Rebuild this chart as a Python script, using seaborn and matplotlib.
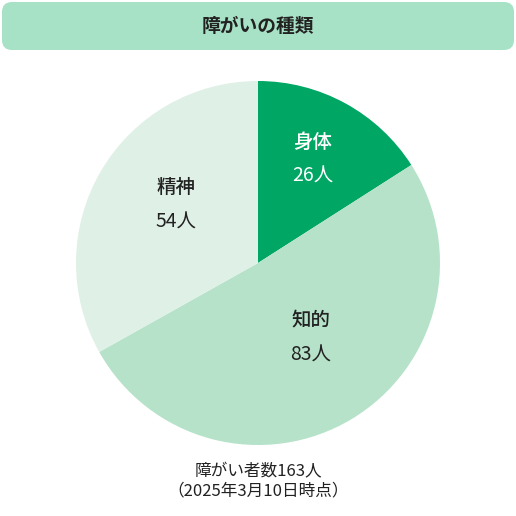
import matplotlib
matplotlib.use("Agg")
import matplotlib.pyplot as plt
import seaborn as sns
from matplotlib.patches import FancyBboxPatch

sns.set_theme(style="white")
plt.rcParams['font.family'] = ['Noto Sans CJK JP', 'DejaVu Sans']

categories = ["身体", "知的", "精神"]
values = [26, 83, 54]
colors = ["#00a664", "#b5e2c8", "#dff0e6"]
text_colors = ["white", "#222222", "#222222"]
title = "障がいの種類"
note = "障がい者数163人\n（2025年3月10日時点）"

fig = plt.figure(figsize=(5.16, 5.16), dpi=100)
fig.patch.set_facecolor("white")

bax = fig.add_axes([0, 0, 1, 1], zorder=0)
bax.set_xlim(0, 516); bax.set_ylim(516, 0); bax.axis("off")
bax.add_patch(FancyBboxPatch((2, 2), 512, 48, boxstyle="round,pad=0,rounding_size=10",
                             facecolor="#a8e2c6", edgecolor="none"))
bax.text(258, 27, title, ha="center", va="center", fontsize=13.5, fontweight="bold", color="#222222")
bax.text(258, 481, note, ha="center", va="center", fontsize=12, color="#222222", linespacing=1.15)

r = 182 / 516
ax = fig.add_axes([0.5 - r, (516 - 263) / 516 - r, 2 * r, 2 * r], zorder=1)
ax.pie(values, colors=colors, startangle=90, counterclock=False,
       wedgeprops=dict(linewidth=0))
ax.set_aspect("equal")
ax.set_xlim(-1, 1); ax.set_ylim(-1, 1)
label_pos = [(0.30, 0.57), (0.29, -0.41), (-0.45, 0.32)]
for i, (c, v) in enumerate(zip(categories, values)):
    x, y = label_pos[i]
    ax.text(x, y + 0.095, c, ha="center", va="center", fontsize=14,
            fontweight="medium", color=text_colors[i])
    ax.text(x, y - 0.095, f"{v}人", ha="center", va="center", fontsize=14,
            color=text_colors[i])

fig.savefig("out.png", dpi=100)
